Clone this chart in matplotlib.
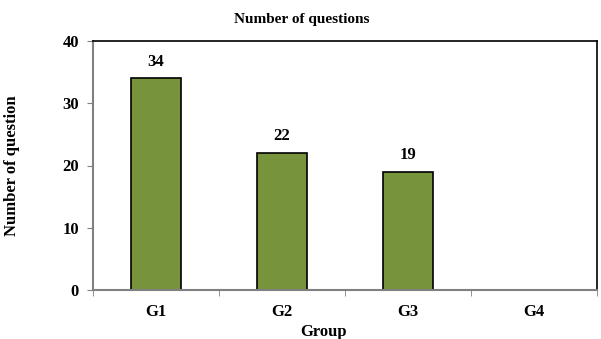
import matplotlib
matplotlib.use('Agg')
import matplotlib.pyplot as plt

# Question counts per group
groups = ['G1', 'G2', 'G3', 'G4']
counts = [34, 22, 19, 0]
y_ticks = [0, 10, 20, 30, 40]

BAR_COLOR = '#77933C'
AXIS_GRAY = '#808080'

plt.rcParams['font.family'] = ['Liberation Serif', 'DejaVu Serif']
plt.rcParams['font.weight'] = 'bold'

fig = plt.figure(figsize=(6.01, 3.39), dpi=100)
ax = fig.add_axes([93 / 601, 1 - 290 / 339, (597 - 93) / 601, (290 - 41) / 339])

x = list(range(len(groups)))
bars = ax.bar(x, counts, width=0.4, color=BAR_COLOR, edgecolor='black', linewidth=1.2)

# value labels only for non-empty groups
for xi, c in zip(x, counts):
    if c > 0:
        ax.text(xi, c + 1.4, str(c), ha='center', va='bottom', fontsize=12, fontweight='bold')

ax.set_xlim(-0.5, len(groups) - 0.5)
ax.set_ylim(0, 40)
ax.set_yticks(y_ticks)
ax.set_xticks(x)
ax.set_xticklabels(groups)
ax.tick_params(axis='both', labelsize=12, colors=AXIS_GRAY, labelcolor='black', direction='out')
ax.tick_params(axis='x', length=0, pad=10)
ax.tick_params(axis='y', length=4, pad=6)
# minor ticks mark category boundaries
ax.set_xticks([i - 0.5 for i in range(len(groups) + 1)], minor=True)
ax.tick_params(axis='x', which='minor', length=4, color=AXIS_GRAY)

for side in ['top', 'right']:
    ax.spines[side].set_color('black')
    ax.spines[side].set_linewidth(1.2)
for side in ['left', 'bottom']:
    ax.spines[side].set_color(AXIS_GRAY)
    ax.spines[side].set_linewidth(1.5)

ax.set_title('Number of questions', fontsize=11, fontweight='bold', x=0.415, y=1.0, pad=13)
ax.set_xlabel('Group', fontsize=12, fontweight='bold')
ax.xaxis.set_label_coords(0.458, -0.135)
ax.set_ylabel('Number of question', fontsize=12, fontweight='bold')
ax.yaxis.set_label_coords(-0.145, 0.5)

plt.savefig('out.png', dpi=100)
